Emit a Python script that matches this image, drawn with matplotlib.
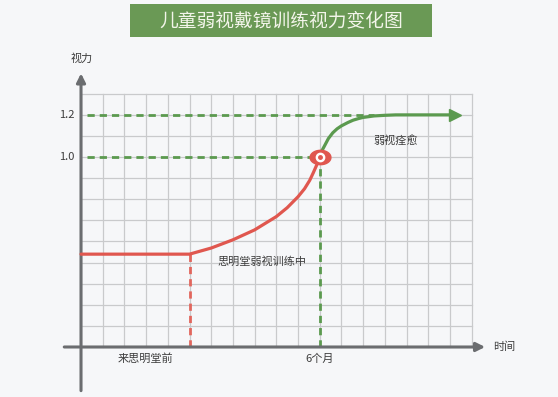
# -*- coding: utf-8 -*-

import numpy as np
import matplotlib.pyplot as plt
from matplotlib.path import Path
from matplotlib.patches import Rectangle

plt.rcParams['font.family'] = ['Noto Sans CJK SC', 'DejaVu Sans']

# Datos (unidades de la cuadricula)
titulo = "儿童弱视戴镜训练视力变化图"
red_x = [0, 5, 6, 7, 8, 9, 9.5, 10, 10.3, 10.54, 10.7, 10.85, 11]
red_y = [4.4, 4.4, 4.69, 5.08, 5.55, 6.18, 6.6, 7.12, 7.5, 7.9, 8.25, 8.6, 9.0]
green_x = [11, 11.1, 11.23, 11.4, 11.6, 11.8, 12, 12.3, 12.54, 12.8, 13, 13.5, 14, 14.5, 17.0]
green_y = [9, 9.3, 9.55, 9.88, 10.15, 10.34, 10.48, 10.64, 10.75, 10.83, 10.88, 10.95, 10.98, 11, 11]
ytick_pos = [11, 9]
ytick_labels = ["1.2", "1.0"]
x_inicio = 5
x_seis_meses = 11
xlabels = ["来思明堂前", "6个月"]
xlabel_pos = [2.95, 11]

verde = '#5b9a4f'
rojo = '#e0574f'
gris_eje = '#6b6d70'
texto = '#3d3d3d'

fig = plt.figure(figsize=(5.58, 3.97), dpi=100)
fig.patch.set_facecolor('#f6f7f9')
ax = fig.add_axes([0, 0, 1, 1])
ax.set_xlim(-3.733, 21.98)
ax.set_ylim(-2.37, 16.445)
ax.axis('off')

# Cuadricula
for i in range(19):
    ax.plot([i, i], [0, 12], color='#c9cacc', lw=0.9, zorder=1)
for j in range(13):
    ax.plot([0, 18], [j, j], color='#c9cacc', lw=0.9, zorder=1)

# Ejes con flechas
ax.annotate('', xy=(18.75, 0), xytext=(-0.9, 0),
            arrowprops=dict(arrowstyle='-|>', lw=2.2, color=gris_eje, mutation_scale=13), zorder=3)
ax.annotate('', xy=(0, 13.1), xytext=(0, -2.2),
            arrowprops=dict(arrowstyle='-|>', lw=2.2, color=gris_eje, mutation_scale=13), zorder=3)

# Lineas discontinuas de referencia
ax.plot([0.27, 13.5], [11, 11], color=verde, lw=2.0, dashes=(2.6, 1.8), zorder=2)
ax.plot([0.27, x_seis_meses], [9, 9], color=verde, lw=2.0, dashes=(2.6, 1.8), zorder=2)
ax.plot([x_seis_meses, x_seis_meses], [0, 9], color=verde, lw=2.0, dashes=(2.6, 1.8), zorder=2)
ax.plot([x_inicio, x_inicio], [0, red_y[1]], color='#e2665d', lw=2.0, dashes=(2.6, 1.8), zorder=2)

# Curvas de vision
ax.plot(red_x, red_y, color=rojo, lw=2.3, solid_capstyle='round', solid_joinstyle='round', zorder=4)
ax.plot(green_x, green_y, color=verde, lw=2.3, solid_capstyle='round', solid_joinstyle='round', zorder=4)
ax.plot([17.25], [11], marker='>', color=verde, markersize=9, zorder=4)

# Marcador en forma de ojo
t = np.linspace(0, 2 * np.pi, 60)
ojo = Path(np.column_stack([1.45 * np.cos(t), np.sin(t)]))
ax.plot([x_seis_meses], [9], marker=ojo, color=rojo, markersize=15, zorder=5)
ax.plot([x_seis_meses], [9], marker='o', color='white', markersize=6, zorder=6)
ax.plot([x_seis_meses], [9], marker='o', color=rojo, markersize=2.5, zorder=7)

# Textos
for p, lab in zip(ytick_pos, ytick_labels):
    ax.text(-0.3, p, lab, ha='right', va='center', fontsize=8, color=texto)
for p, lab in zip(xlabel_pos, xlabels):
    ax.text(p, -0.55, lab, ha='center', va='center', fontsize=8, color=texto)
ax.text(0.05, 13.65, "视力", ha='center', va='center', fontsize=8, color=texto)
ax.text(19.5, 0.0, "时间", ha='center', va='center', fontsize=8, color=texto)
ax.text(8.35, 4.05, "思明堂弱视训练中", ha='center', va='center', fontsize=8, color=texto)
ax.text(14.5, 9.77, "弱视痊愈", ha='center', va='center', fontsize=8, color=texto)

# Titulo en banda verde
fig.patches.append(Rectangle((130 / 558, 1 - 37 / 397), 302 / 558, 33 / 397,
                             transform=fig.transFigure, facecolor='#6a9955', edgecolor='none'))
fig.text(281 / 558, 1 - 20.5 / 397, titulo, ha='center', va='center', fontsize=13.5, color='#f3f5ea')

fig.savefig('out.png', dpi=100, facecolor=fig.get_facecolor())
